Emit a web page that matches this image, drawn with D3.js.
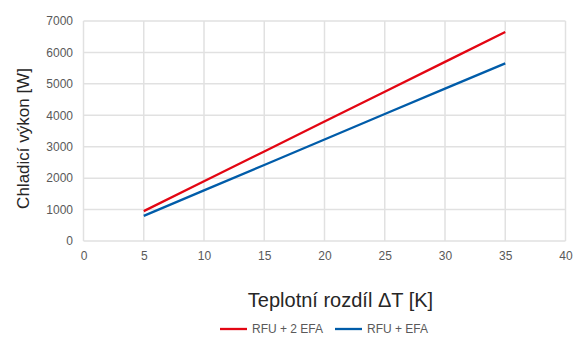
<!DOCTYPE html>
<html><head><meta charset="utf-8">
<script src="https://cdn.jsdelivr.net/npm/d3@7"></script>
<style>body{margin:0;background:#fff}svg{display:block}</style>
</head><body>
<script>
const xValues = [5, 10, 15, 20, 25, 30, 35];
const seriesNames = ["RFU + 2 EFA", "RFU + EFA"];
const red2EFA = [950, 1900, 2850, 3800, 4750, 5700, 6650];
const blue1EFA = [800, 1610, 2420, 3230, 4040, 4850, 5650];
const xTicks = [0, 5, 10, 15, 20, 25, 30, 35, 40];
const yTicks = [0, 1000, 2000, 3000, 4000, 5000, 6000, 7000];
const colors = ["#e30613", "#005ca9"];

const W = 574, H = 337;
const svg = d3.select("body").append("svg").attr("width", W).attr("height", H);
const font = "'Liberation Sans', Arial, sans-serif";
const x = d3.scaleLinear().domain([0, 40]).range([83.5, 565.5]);
const y = d3.scaleLinear().domain([0, 7000]).range([241, 21]);

const g = svg.append("g");
g.selectAll(".vg").data(xTicks).enter().append("line")
  .attr("x1", d => x(d)).attr("x2", d => x(d)).attr("y1", y(0)).attr("y2", y(7000))
  .attr("stroke", "#e1e1e1").attr("stroke-width", 1.5);
g.selectAll(".hg").data(yTicks).enter().append("line")
  .attr("x1", x(0)).attr("x2", x(40)).attr("y1", d => y(d)).attr("y2", d => y(d))
  .attr("stroke", "#e1e1e1").attr("stroke-width", 1.5);

const xAxis = svg.append("g").attr("transform", `translate(0,${y(0)})`)
  .call(d3.axisBottom(x).tickValues(xTicks).tickSize(0).tickPadding(10));
const yAxis = svg.append("g").attr("transform", `translate(${x(0)},0)`)
  .call(d3.axisLeft(y).tickValues(yTicks).tickSize(0).tickPadding(10.5).tickFormat(d3.format("d")));
[xAxis, yAxis].forEach(a => {
  a.select(".domain").remove();
  a.selectAll("text").attr("fill", "#595959").style("font-family", font).style("font-size", "12px");
});

const series = [red2EFA, blue1EFA];
const line = d3.line().x((d, i) => x(xValues[i])).y(d => y(d));
series.forEach((s, k) => {
  svg.append("path").datum(s).attr("d", line).attr("fill", "none")
    .attr("stroke", colors[k]).attr("stroke-width", 2.3);
});

svg.append("text").attr("x", 340.5).attr("y", 307).attr("text-anchor", "middle")
  .style("font-family", font).style("font-size", "20px").attr("fill", "#262626")
  .text("Teplotní rozdíl ΔT [K]");
svg.append("text").attr("transform", "translate(29,138.5) rotate(-90)").attr("text-anchor", "middle")
  .style("font-family", font).style("font-size", "17px").attr("fill", "#262626")
  .text("Chladicí výkon [W]");

const leg = [{x: 220}, {x: 335}];
seriesNames.forEach((n, k) => {
  svg.append("line").attr("x1", leg[k].x).attr("x2", leg[k].x + 27).attr("y1", 329).attr("y2", 329)
    .attr("stroke", colors[k]).attr("stroke-width", 2.3);
  svg.append("text").attr("x", leg[k].x + 32).attr("y", 333)
    .style("font-family", font).style("font-size", "12px").attr("fill", "#595959").text(n);
});
</script>
</body></html>
